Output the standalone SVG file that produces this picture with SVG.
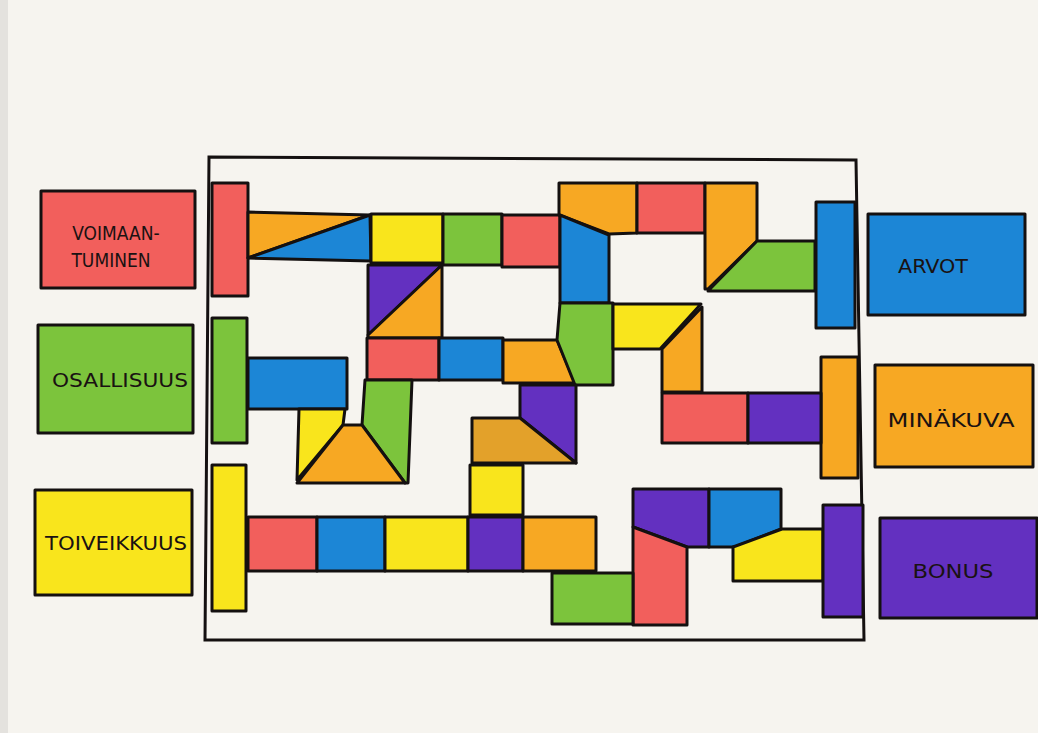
<svg xmlns="http://www.w3.org/2000/svg" width="1038" height="733" viewBox="0 0 1038 733">
<style>
.t{stroke:#141010;stroke-width:3;stroke-linejoin:round}
.r{fill:#f25f5c}.o{fill:#f7a823}.y{fill:#f9e51c}.g{fill:#7cc43c}.b{fill:#1c86d6}.p{fill:#6330c0}.ob{fill:#e3a12a}
.lbl{font-family:"DejaVu Sans","Liberation Sans",sans-serif;font-stretch:condensed;font-size:19px;fill:#1a1212;text-anchor:middle}
</style>
<rect width="1038" height="733" fill="#f6f4ef"/>
<rect x="0" y="0" width="8" height="733" fill="#e4e2de"/>
<g id="frame"><path d="M209,157 L856,160 L864,640 L205,640 Z" fill="none" stroke="#141010" stroke-width="3"/></g>
<g id="board">
<rect class="t r" x="212" y="183" width="36" height="113"/>
<polygon class="t o" points="248,212 370,215 248,258"/>
<polygon class="t b" points="370,215 371,261 248,258"/>
<rect class="t y" x="371" y="214" width="72" height="49"/>
<rect class="t g" x="443" y="214" width="59" height="51"/>
<rect class="t r" x="502" y="215" width="58" height="52"/>
<polygon class="t p" points="368,265 442,265 368,335"/>
<polygon class="t o" points="442,265 442,338 368,338 368,335"/>
<rect class="t r" x="367" y="338" width="72" height="42"/>
<rect class="t b" x="439" y="338" width="64" height="42"/>
<polygon class="t o" points="503,340 557,340 575,383 503,383"/>
<polygon class="t o" points="559,183 637,183 637,233 609,234 559,215"/>
<rect class="t r" x="637" y="183" width="68" height="50"/>
<polygon class="t o" points="705,183 757,183 757,241 708,289 705,289"/>
<polygon class="t g" points="757,241 815,241 815,291 708,291"/>
<rect class="t b" x="816" y="202" width="39" height="126"/>
<polygon class="t b" points="560,215 609,235 609,303 560,303"/>
<polygon class="t g" points="560,303 613,303 613,385 575,385 557,340"/>
<polygon class="t y" points="613,304 701,304 660,349 613,349"/>
<polygon class="t o" points="702,307 702,392 662,392 662,349"/>
<rect class="t g" x="212" y="318" width="35" height="125"/>
<rect class="t b" x="248" y="358" width="99" height="51"/>
<polygon class="t y" points="299,409 345,409 343,425 297,480"/>
<polygon class="t g" points="365,380 412,380 408,483 405,483 362,425"/>
<polygon class="t o" points="343,425 362,425 405,483 297,483"/>
<polygon class="t p" points="520,385 576,385 576,463 520,418"/>
<polygon class="t ob" points="472,418 520,418 576,463 472,463"/>
<rect class="t y" x="470" y="465" width="53" height="50"/>
<rect class="t y" x="212" y="465" width="34" height="146"/>
<rect class="t r" x="248" y="517" width="69" height="54"/>
<rect class="t b" x="317" y="517" width="68" height="54"/>
<rect class="t y" x="385" y="517" width="83" height="54"/>
<rect class="t p" x="468" y="517" width="55" height="54"/>
<rect class="t o" x="523" y="517" width="73" height="54"/>
<rect class="t o" x="821" y="357" width="37" height="121"/>
<rect class="t r" x="662" y="393" width="86" height="50"/>
<rect class="t p" x="748" y="393" width="73" height="50"/>
<polygon class="t p" points="633,489 709,489 709,547 687,547 633,527"/>
<polygon class="t r" points="633,527 687,547 687,625 633,625"/>
<polygon class="t b" points="709,489 781,489 781,529 735,547 709,547"/>
<polygon class="t y" points="733,547 782,529 823,529 823,581 733,581"/>
<rect class="t p" x="823" y="505" width="40" height="112"/>
<rect class="t g" x="552" y="573" width="81" height="51"/>
</g>
<g id="voimaantuminen"><rect class="t r" x="41" y="191" width="154" height="97"/><text class="lbl" x="116" y="240">VOIMAAN-</text><text class="lbl" x="111" y="267">TUMINEN</text></g>
<g id="osallisuus"><rect class="t g" x="38" y="325" width="155" height="108"/><text class="lbl" x="120" y="387" textLength="136" lengthAdjust="spacingAndGlyphs">OSALLISUUS</text></g>
<g id="toiveikkuus"><rect class="t y" x="35" y="490" width="157" height="105"/><text class="lbl" x="116" y="550" textLength="142" lengthAdjust="spacingAndGlyphs">TOIVEIKKUUS</text></g>
<g id="arvot"><rect class="t b" x="868" y="214" width="157" height="101"/><text class="lbl" x="933" y="273" textLength="70" lengthAdjust="spacingAndGlyphs">ARVOT</text></g>
<g id="minakuva"><rect class="t o" x="875" y="365" width="158" height="102"/><text class="lbl" x="951" y="427" textLength="127" lengthAdjust="spacingAndGlyphs">MINÄKUVA</text></g>
<g id="bonus"><rect class="t p" x="880" y="518" width="157" height="100"/><text class="lbl" x="953" y="578" font-size="22" textLength="81" lengthAdjust="spacingAndGlyphs">BONUS</text></g>
</svg>
